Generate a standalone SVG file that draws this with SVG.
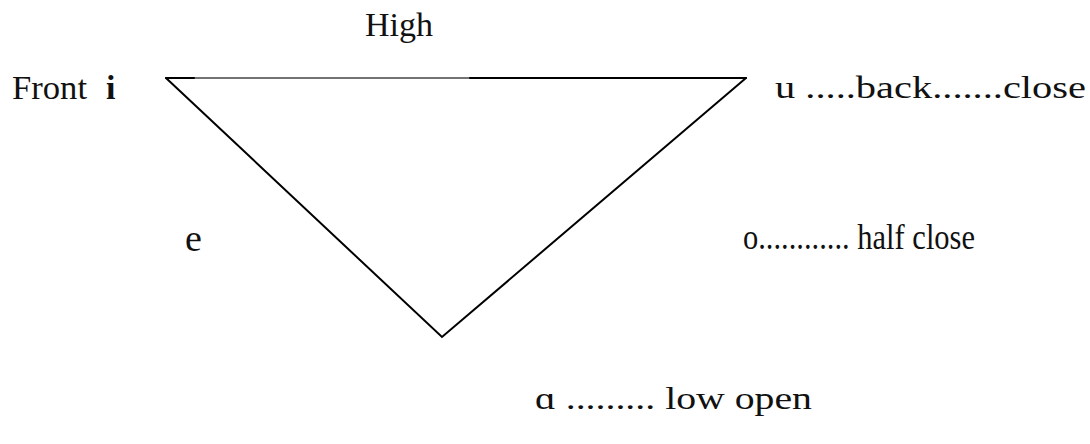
<svg xmlns="http://www.w3.org/2000/svg" width="1090" height="444" viewBox="0 0 1090 444">
<style>
text{font-family:"Liberation Serif","Times New Roman",serif;fill:#111}
.edge{stroke:#000;stroke-width:2;fill:none;stroke-linecap:round;stroke-linejoin:miter}
.thin{stroke:#444;stroke-width:1.3;fill:none}
</style>
<rect width="1090" height="444" fill="#fff"/>
<g id="connectors">
<line class="thin" x1="166" y1="78" x2="746" y2="78"/>
<line class="edge" x1="166" y1="78" x2="194" y2="78"/>
<line class="edge" x1="470" y1="78" x2="746" y2="78"/>
<polyline class="edge" points="166,78 442,337 746,78"/>
</g>
<g id="high"><text x="365" y="36" font-size="34" textLength="68" lengthAdjust="spacingAndGlyphs">High</text></g>
<g id="front"><text x="12" y="99" font-size="34" textLength="75" lengthAdjust="spacingAndGlyphs">Front</text><text x="106" y="99" font-size="34" font-weight="bold">i</text></g>
<g id="back"><text x="775" y="98" font-size="32" textLength="311" lengthAdjust="spacingAndGlyphs">u .....back.......close</text></g>
<g id="e"><text x="185" y="251" font-size="38">e</text></g>
<g id="half"><text x="743" y="249" font-size="35" textLength="232" lengthAdjust="spacingAndGlyphs">o............ half close</text></g>
<g id="low"><text x="535" y="409" font-size="32" textLength="277" lengthAdjust="spacingAndGlyphs">ɑ ......... low open</text></g>
</svg>
